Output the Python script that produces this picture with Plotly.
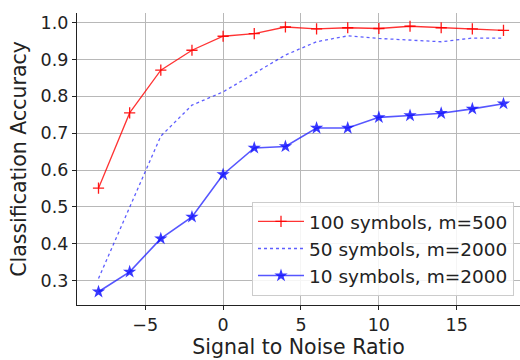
import plotly.graph_objects as go

snr = [-8, -6, -4, -2, 0, 2, 4, 6, 8, 10, 12, 14, 16, 18]
acc_100_m500 = [0.551, 0.755, 0.871, 0.925, 0.963, 0.970, 0.988, 0.983, 0.986, 0.984, 0.990, 0.986, 0.983, 0.979]
acc_50_m2000 = [0.306, 0.500, 0.692, 0.776, 0.812, 0.862, 0.912, 0.948, 0.964, 0.957, 0.952, 0.948, 0.958, 0.958]
acc_10_m2000 = [0.270, 0.324, 0.414, 0.473, 0.588, 0.660, 0.664, 0.714, 0.714, 0.743, 0.748, 0.754, 0.766, 0.780]

names = ["100 symbols, m=500", "50 symbols, m=2000", "10 symbols, m=2000"]
x_ticks = [-5, 0, 5, 10, 15]
y_ticks = [0.3, 0.4, 0.5, 0.6, 0.7, 0.8, 0.9, 1.0]

font = "DejaVu Sans, Verdana, sans-serif"

fig = go.Figure()
fig.add_trace(go.Scatter(
    x=snr, y=acc_100_m500, name=names[0], mode="lines+markers",
    line=dict(color="rgba(255,0,0,0.8)", width=1.3),
    marker=dict(symbol="cross-thin", size=8, color="rgba(255,0,0,0.8)",
                line=dict(color="rgba(255,0,0,0.9)", width=1.3)),
))
fig.add_trace(go.Scatter(
    x=snr, y=acc_50_m2000, name=names[1], mode="lines",
    line=dict(color="rgba(40,40,255,0.75)", width=1.3, dash="dot"),
))
fig.add_trace(go.Scatter(
    x=snr, y=acc_10_m2000, name=names[2], mode="lines+markers",
    line=dict(color="rgba(30,30,255,0.75)", width=1.6),
    marker=dict(symbol="star", size=10, color="rgba(20,20,255,0.85)", line=dict(width=0)),
))

axis_common = dict(
    showgrid=True, gridcolor="#b8b8b8", gridwidth=1,
    showline=True, linecolor="#222222", linewidth=1.2,
    ticks="outside", ticklen=4, tickcolor="#222222", tickwidth=1,
    zeroline=False, tickfont=dict(family=font, size=17.5, color="#222222"),
)

fig.update_layout(
    width=520, height=360,
    margin=dict(l=77, r=0, t=13, b=55),
    paper_bgcolor="white", plot_bgcolor="white",
    font=dict(family=font, color="#222222"),
    xaxis=dict(range=[-9.38, 19.06], tickvals=x_ticks, ticktext=["\u22125", "0", "5", "10", "15"],
               title=dict(text="Signal to Noise Ratio", font=dict(family=font, size=20.5), standoff=2),
               **axis_common),
    yaxis=dict(range=[0.234, 1.026], tickvals=y_ticks, ticktext=[f"{v:.1f}" for v in y_ticks],
               title=dict(text="Classification Accuracy", font=dict(family=font, size=20.5), standoff=8),
               **axis_common),
    showlegend=True,
    legend=dict(x=(514 - 77) / 443, y=0.031, xanchor="right", yanchor="bottom",
                bgcolor="rgba(255,255,255,0.85)", bordercolor="#cccccc", borderwidth=1,
                font=dict(family=font, size=18.5, color="#222222"),
                tracegroupgap=0, itemwidth=46),
)

fig.write_html("out.html")
